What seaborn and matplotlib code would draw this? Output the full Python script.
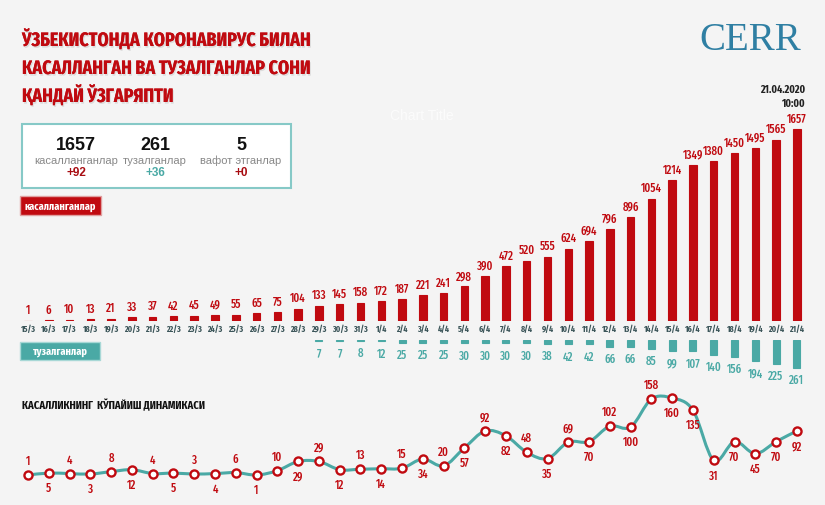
import numpy as np
import matplotlib
matplotlib.use("Agg")
import matplotlib.pyplot as plt
import matplotlib.patheffects as pe
from matplotlib.path import Path
from matplotlib.patches import PathPatch, Rectangle
import pandas as pd
import seaborn as sns

# --- data ---
dates = ['15/3', '16/3', '17/3', '18/3', '19/3', '20/3', '21/3', '22/3', '23/3', '24/3',
         '25/3', '26/3', '27/3', '28/3', '29/3', '30/3', '31/3', '1/4', '2/4', '3/4',
         '4/4', '5/4', '6/4', '7/4', '8/4', '9/4', '10/4', '11/4', '12/4', '13/4',
         '14/4', '15/4', '16/4', '17/4', '18/4', '19/4', '20/4', '21/4']
cases = [1, 6, 10, 13, 21, 33, 37, 42, 45, 49, 55, 65, 75, 104, 133, 145, 158, 172, 187, 221,
         241, 298, 390, 472, 520, 555, 624, 694, 796, 896, 1054, 1214, 1349, 1380, 1450, 1495,
         1565, 1657]
rec_dates = dates[14:]
recovered = [7, 7, 8, 12, 25, 25, 25, 30, 30, 30, 30, 38, 42, 42, 66, 66, 85, 99, 107, 140,
             156, 194, 225, 261]
daily = [1, 5, 4, 3, 8, 12, 4, 5, 3, 4, 6, 1, 10, 29, 29, 12, 13, 14, 15, 34, 20, 57, 92, 82,
         48, 35, 69, 70, 102, 100, 158, 160, 135, 31, 70, 45, 70, 92]
# label above (a) or below (b) each point
label_side = list("abababababababababababababababab" + "bbbbbb")

title_lines = ["ЎЗБЕКИСТОНДА КОРОНАВИРУС БИЛАН",
               "КАСАЛЛАНГАН ВА ТУЗАЛГАНЛАР СОНИ",
               "ҚАНДАЙ ЎЗГАРЯПТИ"]
totals = [("1657", "касалланганлар", "+92"), ("261", "тузалганлар", "+36"),
          ("5", "вафот этганлар", "+0")]

RED = '#c00a10'
TEAL = '#4aa9a5'
BG = '#f4f4f4'

sns.set_theme(style='white')
COND = ['Fira Sans Extra Condensed', 'PT Sans Narrow', 'DejaVu Sans']
ARIAL = ['Liberation Sans', 'DejaVu Sans']
plt.rcParams['font.family'] = COND

W, H = 825, 506
fig = plt.figure(figsize=(W / 100, H / 100), dpi=100, facecolor=BG)


def px_axes(left, top, right, bottom):
    return fig.add_axes([left / W, 1 - bottom / H, (right - left) / W, (bottom - top) / H])


step = 20.78
x0 = 28 - step / 2
x1 = x0 + step * len(dates)

# --- cases bars ---
ax = px_axes(x0, 110, x1, 322)
df = pd.DataFrame({'date': dates, 'cases': cases})
sns.barplot(data=df, x='date', y='cases', order=dates, color=RED, width=0.36,
            saturation=1, edgecolor=RED, linewidth=0.8, ax=ax)
ax.set_xlim(-0.5, len(dates) - 0.5)
ax.set_ylim(0, 1657 * 212 / 192)
for i, v in enumerate(cases):
    ax.annotate(str(v), (i, v), xytext=(0, 3.5), textcoords='offset points', ha='center',
                va='bottom', color=RED, fontsize=8.5, fontweight='medium')
ax.set_xticks(range(len(dates)))
ax.set_xticklabels(dates, fontsize=6.3, color='#3b5559', fontweight='bold')
ax.tick_params(axis='x', length=0, pad=2)
ax.set_yticks([])
ax.set_xlabel('')
ax.set_ylabel('')
ax.set_facecolor('none')
sns.despine(ax=ax, left=True, bottom=True)

# --- recovered bars (hanging down) ---
axr = px_axes(x0, 341, x1, 400)
dfr = pd.DataFrame({'date': rec_dates, 'rec': recovered})
sns.barplot(data=dfr, x='date', y='rec', order=dates, color=TEAL, width=0.34,
            saturation=1, edgecolor=TEAL, linewidth=0.8, ax=axr)
axr.set_xlim(-0.5, len(dates) - 0.5)
axr.set_ylim(59 / 0.107, 0)
for d, v in zip(rec_dates, recovered):
    axr.annotate(str(v), (dates.index(d), v), xytext=(0, -4), textcoords='offset points',
                 ha='center', va='top', color=TEAL, fontsize=8.5, fontweight='medium')
axr.axis('off')

# --- daily increase line ---
axl = px_axes(x0, 380, x1, 500)
axl.set_xlim(-0.5, len(dates) - 0.5)
axl.set_ylim(-(500 - 476.5) / 0.484, (476.5 - 380) / 0.484)
xs = np.arange(len(daily), dtype=float)
ys = np.array(daily, dtype=float)
# smooth curve through the points (Catmull-Rom as cubic Bezier segments)
verts = [(xs[0], ys[0])]
codes = [Path.MOVETO]
for k in range(len(xs) - 1):
    p0 = np.array([xs[max(k - 1, 0)], ys[max(k - 1, 0)]])
    p1 = np.array([xs[k], ys[k]])
    p2 = np.array([xs[k + 1], ys[k + 1]])
    p3 = np.array([xs[min(k + 2, len(xs) - 1)], ys[min(k + 2, len(xs) - 1)]])
    c1 = p1 + (p2 - p0) / 6
    c2 = p2 - (p3 - p1) / 6
    verts += [tuple(c1), tuple(c2), tuple(p2)]
    codes += [Path.CURVE4] * 3
axl.add_patch(PathPatch(Path(verts, codes), facecolor='none', edgecolor=TEAL, lw=2.2,
                        capstyle='round', joinstyle='round', zorder=2))
dfl = pd.DataFrame({'x': xs, 'y': ys})
sns.scatterplot(data=dfl, x='x', y='y', s=34, color='white', edgecolor=RED, linewidth=1.7,
                zorder=3, ax=axl)
for i, v in enumerate(daily):
    up = label_side[i] == 'a'
    axl.annotate(str(v), (i, v), xytext=(0, 6 if up else -6), textcoords='offset points',
                 ha='center', va='bottom' if up else 'top', color=RED, fontsize=8.5,
                 fontweight='medium')
axl.axis('off')

# --- title, logo, date ---
shadow = [pe.withSimplePatchShadow(offset=(0.8, -1.2), shadow_rgbFace='#888888', alpha=0.22),
          pe.Normal()]
for k, line in enumerate(title_lines):
    fig.text(22 / W, 1 - (47 + 28 * k) / H, line, color=RED, fontsize=14, fontweight='bold',
             va='baseline', ha='left', path_effects=shadow)
fig.text(750 / W, 1 - 41 / H, 'CERR', family=['Liberation Serif', 'DejaVu Serif'],
         color='#2f7fa3', fontsize=28, ha='center', va='center')
fig.text(805 / W, 1 - 90 / H, '21.04.2020', color='#222222', fontsize=8,
         fontweight='bold', ha='right', va='center')
fig.text(805 / W, 1 - 104 / H, '10:00', color='#222222', fontsize=8,
         fontweight='bold', ha='right', va='center')
fig.text(422 / W, 1 - 116 / H, 'Chart Title', color='white', alpha=0.7, fontsize=10,
         ha='center', va='center', family=ARIAL)

# --- summary box ---
fig.patches.append(Rectangle((22 / W, 1 - 189 / H), 269 / W, 64 / H, transform=fig.transFigure,
                             facecolor='white', edgecolor='#86c9c7', lw=1.5))
for cx, (num, name, delta) in zip([76, 155, 241], totals):
    fig.text(cx / W, 1 - 145 / H, num, family=ARIAL,
             fontsize=13, fontweight='bold', color='#111111', ha='center', va='center')
    fig.text(cx / W, 1 - 161 / H, name, family=ARIAL,
             fontsize=8, color='#888888', ha='center', va='center')
    fig.text(cx / W, 1 - 173 / H, delta, family=ARIAL,
             fontsize=8.5, fontweight='bold', color=TEAL if delta == '+36' else '#a80d12',
             ha='center', va='center')

# --- legend tags ---
fig.patches.append(Rectangle((20 / W, 1 - 216 / H), 81 / W, 19 / H, transform=fig.transFigure,
                             facecolor=RED, edgecolor='#e0a0a0', lw=1))
fig.text(60.5 / W, 1 - 206.5 / H, 'касалланганлар', color='white', fontsize=8,
         fontweight='bold', ha='center', va='center')
fig.patches.append(Rectangle((20 / W, 1 - 361 / H), 80 / W, 18 / H, transform=fig.transFigure,
                             facecolor=TEAL, edgecolor='#a8d8d6', lw=1))
fig.text(60 / W, 1 - 352 / H, 'тузалганлар', color='white', fontsize=8,
         fontweight='bold', ha='center', va='center')

fig.text(22 / W, 1 - 405 / H, 'КАСАЛЛИКНИНГ  КЎПАЙИШ ДИНАМИКАСИ', color='#111111',
         fontsize=8.2, fontweight='bold', ha='left', va='center')

fig.savefig('out.png', dpi=100, facecolor=BG)
